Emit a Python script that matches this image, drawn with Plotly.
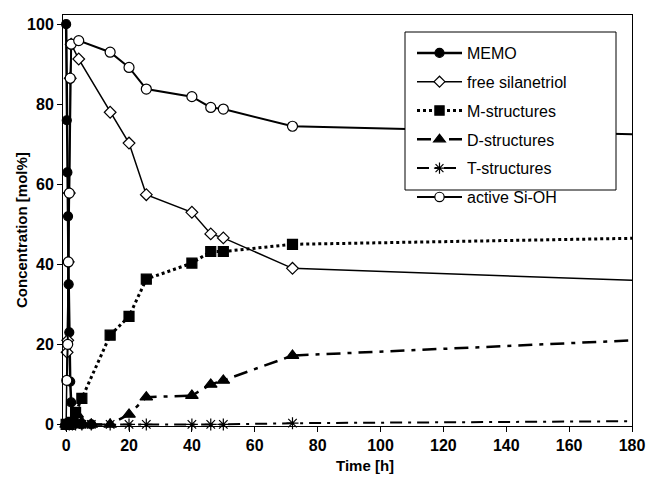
import plotly.graph_objects as go

# ---- data ----
memo_t = [0, 0.2, 0.4, 0.6, 0.8, 1.0, 1.3, 1.6, 3, 5, 8]
memo_y = [100, 76, 63, 52, 35, 23, 10.7, 5.5, 0.5, 0, 0]

silanetriol_t = [0, 0.3, 0.5, 0.7, 1.0, 1.3, 1.6, 4, 14, 20, 25.5, 40, 46, 50, 72, 180]
silanetriol_y = [0, 18, 21, 40.6, 57.8, 86.5, 95, 91.3, 78, 70.3, 57.4, 53, 47.6, 46.6, 39, 36]

m_t = [0, 1, 2, 3, 5, 14, 20, 25.5, 40, 46, 50, 72, 180]
m_y = [0, 0, 0.5, 3, 6.5, 22.3, 27, 36.3, 40.3, 43.2, 43.2, 45, 46.5]

d_t = [0, 1, 2, 3.5, 5, 8, 14, 20, 25.5, 40, 46, 50, 72, 180]
d_y = [0, 0, 0.5, 2.5, 0.5, 0, 0, 2.5, 6.8, 7.2, 10, 11, 17.2, 21]

t_t = [0, 1, 2, 3, 5, 8, 14, 20, 25.5, 40, 46, 50, 72, 180]
t_y = [0, 0, 0, 0, 0, 0, 0, 0, 0, 0, 0, 0, 0.3, 0.8]

active_t = [0.2, 0.5, 0.7, 1.0, 1.3, 1.6, 4, 14, 20, 25.5, 40, 46, 50, 72, 180]
active_y = [11, 20, 40.6, 57.8, 86.5, 95, 95.9, 93, 89.2, 83.8, 81.9, 79.2, 78.8, 74.5, 72.5]

x_ticks = [0, 20, 40, 60, 80, 100, 120, 140, 160, 180]
y_ticks = [0, 20, 40, 60, 80, 100]

FONT = "Liberation Sans, Arial, sans-serif"

W, H = 646, 477
PL, PR, PT, PB = 63, 632, 15, 426   # plot area in page pixels
PW, PH = PR - PL, PB - PT


def px_x(px):
    return (px - PL) / PW


def px_y(py):
    return (PB - py) / PH


def sizes(n, s, last_hidden=True):
    arr = [s] * n
    if last_hidden:
        arr[-1] = 0
    return arr


fig = go.Figure()

series = [
    dict(name="MEMO", x=memo_t, y=memo_y, dash="solid", lw=2.5,
         sym="circle", fill="black", ms=9, hide=False),
    dict(name="free silanetriol", x=silanetriol_t, y=silanetriol_y, dash="solid", lw=1.5,
         sym="diamond", fill="white", ms=9, hide=True),
    dict(name="M-structures", x=m_t, y=m_y, dash="dot", lw=3,
         sym="square", fill="black", ms=10, hide=True),
    dict(name="D-structures", x=d_t, y=d_y, dash="14px,7px,4px,7px", lw=2.5,
         sym="triangle-up", fill="black", ms=11, hide=True),
    dict(name="T-structures", x=t_t, y=t_y, dash="12px,6px,3px,6px", lw=2,
         sym="asterisk-open", fill="black", ms=10, hide=True),
    dict(name="active Si-OH", x=active_t, y=active_y, dash="solid", lw=2,
         sym="circle", fill="white", ms=10, hide=True),
]

for i, s in enumerate(series):
    fig.add_trace(go.Scatter(
        x=s["x"], y=s["y"], name=s["name"], mode="lines+markers",
        legendgroup=f"g{i}",
        line=dict(color="black", width=s["lw"], dash=s["dash"]),
        marker=dict(symbol=s["sym"], color=s["fill"], opacity=1,
                    size=sizes(len(s["x"]), s["ms"], s["hide"]),
                    line=dict(color="black", width=1.2)),
        cliponaxis=False,
    ))

# legend box (white, covers lines beneath)
fig.add_shape(type="rect", xref="paper", yref="paper",
              x0=px_x(405), x1=px_x(616), y0=px_y(190), y1=px_y(32),
              fillcolor="white", line=dict(color="black", width=1), layer="above")

fig.update_layout(
    width=W, height=H,
    margin=dict(l=PL, r=W - PR, t=PT, b=H - PB, autoexpand=False),
    paper_bgcolor="white", plot_bgcolor="white",
    font=dict(family=FONT, color="black"),
    showlegend=True,
    legend=dict(
        x=px_x(412), y=px_y(36), xanchor="left", yanchor="top",
        bgcolor="rgba(0,0,0,0)", borderwidth=0,
        font=dict(family=FONT, size=16, color="black"),
        itemwidth=45, tracegroupgap=5, traceorder="grouped",
    ),
    xaxis=dict(
        range=[-1, 180], tickvals=x_ticks, ticktext=[str(v) for v in x_ticks],
        showline=True, linecolor="black", linewidth=1, mirror=True,
        ticks="outside", ticklen=5, tickcolor="black",
        showgrid=False, zeroline=False,
        tickfont=dict(family=FONT, size=16, color="black", weight="bold"),
    ),
    yaxis=dict(
        range=[-0.4, 102.3], tickvals=y_ticks, ticktext=[str(v) for v in y_ticks],
        showline=True, linecolor="black", linewidth=1, mirror=True,
        ticks="outside", ticklen=5, tickcolor="black",
        showgrid=False, zeroline=False,
        tickfont=dict(family=FONT, size=16, color="black", weight="bold"),
    ),
    annotations=[
        dict(text="<b>Time [h]</b>", xref="paper", yref="paper",
             x=px_x(365), y=px_y(465), xanchor="center", yanchor="middle",
             showarrow=False, font=dict(family=FONT, size=15, color="black")),
        dict(text="<b>Concentration [mol%]</b>", xref="paper", yref="paper",
             x=px_x(21), y=px_y(230), xanchor="center", yanchor="middle",
             textangle=-90, showarrow=False, font=dict(family=FONT, size=15, color="black")),
    ],
)

fig.write_html("out.html",
               config={"displayModeBar": False},
               post_script="document.body.style.margin='0px';document.body.style.overflow='hidden';")
